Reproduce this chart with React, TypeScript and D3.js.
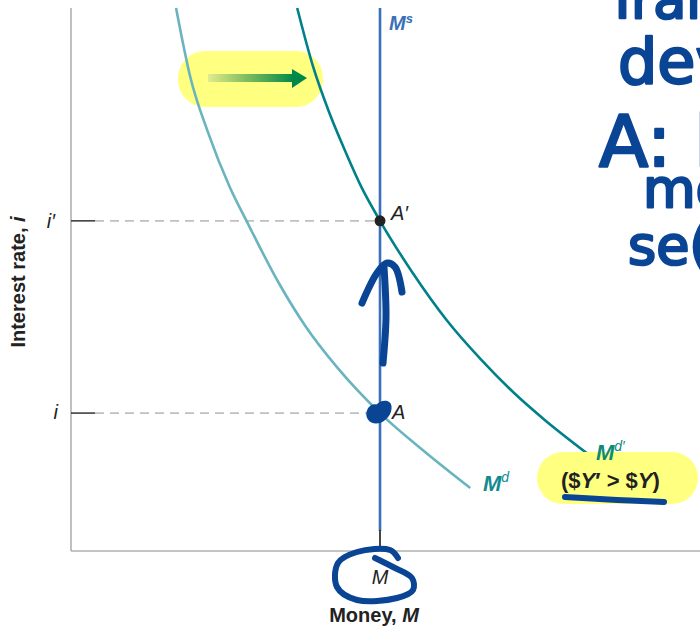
import React from "react";
import * as d3 from "d3";

// Money market: supply M^s, demand M^d and shifted demand M^d'
const moneySupply = 50;
const rateI = 25.4;
const rateIPrime = 60.8;

const demandMoney = [17.0, 19.3, 22.2, 25.7, 28.4, 33.6, 38.0, 43.0, 50, 56.9, 64.6];
const demandRate = [100, 87.3, 77.0, 67.0, 60.8, 49.4, 41.3, 33.9, 25.4, 18.6, 11.6];

const shiftedMoney = [36.6, 39.2, 41.8, 44.5, 47.0, 50, 55.3, 60.8, 66.4, 71.7, 76.7, 83.5];
const shiftedRate = [100, 89.1, 80.7, 73.3, 67.0, 60.8, 51.2, 42.5, 35.2, 29.1, 24.1, 18.0];

const noteLines = ["Tran", "dev", "A: l", "mo", "se("];

const W = 700;
const H = 627;
const FONT = "'Liberation Sans', Arial, sans-serif";
const INK = "#0a4595";

export default function App() {
  const x = d3.scaleLinear().domain([0, 100]).range([71, 689]);
  const y = d3.scaleLinear().domain([0, 100]).range([551, 8]);

  const line = d3
    .line<[number, number]>()
    .x((d) => x(d[0]))
    .y((d) => y(d[1]))
    .curve(d3.curveMonotoneX);

  const mdPts = demandMoney.map((m, k) => [m, demandRate[k]] as [number, number]);
  const md2Pts = shiftedMoney.map((m, k) => [m, shiftedRate[k]] as [number, number]);

  const xM = x(moneySupply);
  const yI = y(rateI);
  const yIp = y(rateIPrime);
  const x0 = x(0);
  const y0 = y(0);

  // freehand ink, drawn relative to anchors on the chart
  const ink = d3.line<[number, number]>().curve(d3.curveCatmullRom.alpha(0.5));
  const shaft: [number, number][] = [[3, -50], [6, -96], [4, -146]].map(
    ([dx, dy]) => [xM + dx, yI + dy] as [number, number]
  );
  const hook: [number, number][] = [[-18, -110], [-3, -140], [7, -150], [15, -146], [22, -121]].map(
    ([dx, dy]) => [xM + dx, yI + dy] as [number, number]
  );
  const loop: [number, number][] = [
    [-5, 7], [13, 16], [32, 27], [33, 39], [17, 47], [-23, 49], [-43, 36], [-42, 12], [-23, 1], [10, -1], [18, 7],
  ].map(([dx, dy]) => [xM + dx, y0 + dy] as [number, number]);

  const pill2 = { x: 537, y: 452, w: 161, h: 52 };
  const underline: [number, number][] = [
    [pill2.x + 28, pill2.y + 45],
    [pill2.x + 80, pill2.y + 48],
    [pill2.x + 127, pill2.y + 50],
  ];

  const noteStyle = [
    { x: 606, y: 18, s: 54 },
    { x: 618, y: 83, s: 62 },
    { x: 599, y: 166, s: 72 },
    { x: 643, y: 207, s: 54 },
    { x: 628, y: 264, s: 54 },
  ];

  return (
    <svg
      width={W}
      height={H}
      viewBox={`0 0 ${W} ${H}`}
      style={{ position: "absolute", left: 0, top: 0, background: "#fff" }}
    >
      <defs>
        <linearGradient id="shiftArrow" x1="0" x2="1" y1="0" y2="0">
          <stop offset="0" stopColor="#e2ec8c" />
          <stop offset="0.45" stopColor="#7ebc5e" />
          <stop offset="1" stopColor="#00884a" />
        </linearGradient>
      </defs>

      {/* axes */}
      <line x1={x0} x2={x0} y1={y(100)} y2={y0} stroke="#b0b0b0" strokeWidth={1.6} />
      <line x1={x0} x2={W} y1={y0} y2={y0} stroke="#b0b0b0" strokeWidth={1.6} />

      {/* rate guides */}
      {[yIp, yI].map((yy, k) => (
        <g key={k}>
          <line x1={x0} x2={x0 + 24} y1={yy} y2={yy} stroke="#333" strokeWidth={1.5} />
          <line x1={x0 + 24} x2={xM} y1={yy} y2={yy} stroke="#c0c0c0" strokeWidth={1.6} strokeDasharray="9 6" />
        </g>
      ))}
      <text x={55} y={yIp + 7} fontFamily={FONT} fontStyle="italic" fontSize={20} fill="#222" textAnchor="end">
        i′
      </text>
      <text x={58} y={yI + 6} fontFamily={FONT} fontStyle="italic" fontSize={20} fill="#222" textAnchor="end">
        i
      </text>

      {/* shift highlight */}
      <rect x={178} y={51} width={145} height={56} rx={27} fill="#ffff80" />

      {/* demand curves */}
      <path d={line(mdPts) || ""} fill="none" stroke="#6ab4bf" strokeWidth={2.6} />
      <path d={line(md2Pts) || ""} fill="none" stroke="#00808a" strokeWidth={2.6} />

      {/* shift arrow */}
      <rect x={208} y={74} width={86} height={8} fill="url(#shiftArrow)" />
      <path d="M292,69 L307,78 L292,88 Z" fill="#00884a" />

      {/* money supply */}
      <line x1={xM} x2={xM} y1={y(100)} y2={y0 - 20} stroke="#3a70b9" strokeWidth={2.6} />
      <line x1={xM} x2={xM} y1={y0 - 21} y2={y0} stroke="#333" strokeWidth={1.8} />
      <text x={xM + 9} y={30} fontFamily={FONT} fontWeight="bold" fontStyle="italic" fontSize={20} fill="#3a70b9">
        M<tspan fontSize={13} dy={-7}>s</tspan>
      </text>

      {/* equilibria */}
      <circle cx={xM} cy={yIp} r={5.5} fill="#222" />
      <text x={xM + 11} y={yIp - 1} fontFamily={FONT} fontStyle="italic" fontSize={20} fill="#222">
        A′
      </text>
      <circle cx={xM} cy={yI} r={5} fill="#222" />
      <text x={xM + 12} y={yI + 6} fontFamily={FONT} fontStyle="italic" fontSize={20} fill="#222">
        A
      </text>

      {/* curve labels */}
      <text x={483} y={491} fontFamily={FONT} fontWeight="bold" fontStyle="italic" fontSize={22} fill="#138a8f">
        M<tspan fontSize={14} fontWeight="normal" dy={-9}>d</tspan>
      </text>
      <rect x={pill2.x} y={pill2.y} width={pill2.w} height={pill2.h} rx={26} fill="#ffff80" />
      <text x={596} y={460} fontFamily={FONT} fontWeight="bold" fontStyle="italic" fontSize={22} fill="#0c8a78">
        M<tspan fontSize={14} fontWeight="normal" dy={-9}>d′</tspan>
      </text>
      <text x={561} y={488} fontFamily={FONT} fontWeight="bold" fontSize={22} fill="#222">
        ($<tspan fontStyle="italic">Y</tspan>′ &gt; $<tspan fontStyle="italic">Y</tspan>)
      </text>

      {/* axis titles */}
      <text x={xM} y={584} fontFamily={FONT} fontStyle="italic" fontSize={20} fill="#222" textAnchor="middle">
        M
      </text>
      <text x={374} y={622} fontFamily={FONT} fontWeight="bold" fontSize={20} fill="#222" textAnchor="middle">
        Money, <tspan fontStyle="italic">M</tspan>
      </text>
      <text
        transform="translate(25,282) rotate(-90)"
        fontFamily={FONT}
        fontWeight="bold"
        fontSize={20}
        fill="#222"
        textAnchor="middle"
      >
        Interest rate, <tspan fontStyle="italic">i</tspan>
      </text>

      {/* ink annotations */}
      <g fill="none" stroke={INK} strokeWidth={7} strokeLinecap="round" strokeLinejoin="round">
        <path d={ink(shaft) || ""} />
        <path d={ink(hook) || ""} />
        <path d={ink(loop) || ""} strokeWidth={6} />
        <path d={ink(underline) || ""} strokeWidth={6} />
      </g>
      <path
        d={`M${xM - 3},${yI - 7} c6,-6 14,-5 13,3 c-1,8 -9,13 -14,13 c-6,0 -9,-5 -8,-10 c1,-5 5,-7 9,-6 z`}
        fill={INK}
        stroke={INK}
        strokeWidth={3}
      />
      {noteLines.map((t, k) => (
        <text
          key={k}
          x={noteStyle[k].x}
          y={noteStyle[k].y}
          fontFamily="'DejaVu Sans', sans-serif"
          fontSize={noteStyle[k].s}
          fill={INK}
          stroke={INK}
          strokeWidth={2.5}
          strokeLinejoin="round"
        >
          {t}
        </text>
      ))}
    </svg>
  );
}
